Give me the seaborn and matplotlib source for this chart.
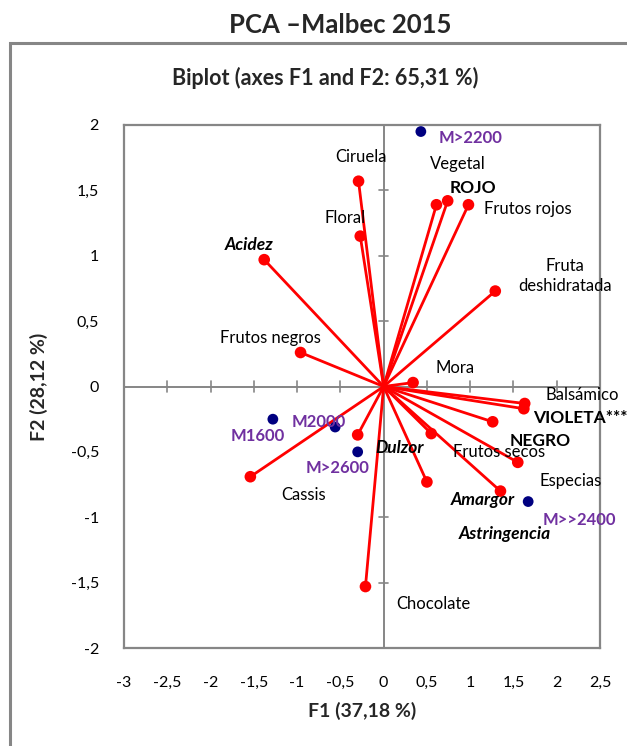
import matplotlib
matplotlib.use("Agg")
import matplotlib.pyplot as plt
import seaborn as sns
import pandas as pd
from matplotlib.patches import Rectangle
from matplotlib.ticker import FuncFormatter

# Variable loadings (F1, F2)
var_names = ["Ciruela", "Floral", "Acidez", "Frutos negros", "Vegetal", "ROJO",
             "Frutos rojos", "Fruta\ndeshidratada", "Mora", "Balsámico", "VIOLETA***",
             "NEGRO", "Frutos secos", "Especias", "Amargor", "Astringencia",
             "Dulzor", "Cassis", "Chocolate"]
var_f1 = [-0.29, -0.27, -1.38, -0.96, 0.61, 0.74, 0.98, 1.29, 0.34, 1.63, 1.62,
          1.26, 0.55, 1.55, 1.35, 0.50, -0.30, -1.54, -0.21]
var_f2 = [1.57, 1.15, 0.97, 0.26, 1.39, 1.42, 1.39, 0.73, 0.03, -0.13, -0.17,
          -0.27, -0.36, -0.58, -0.80, -0.73, -0.37, -0.69, -1.53]

# Observation scores (F1, F2)
obs_names = ["M>2200", "M1600", "M2000", "M>2600", "M>>2400"]
obs_f1 = [0.43, -1.28, -0.56, -0.30, 1.67]
obs_f2 = [1.95, -0.25, -0.31, -0.50, -0.88]

# Label anchor points and styles
var_lab_x = [-0.26, -0.44, -1.56, -1.31, 0.86, 1.03, 1.67, 2.10, 0.82, 2.30, 2.27,
             1.81, 1.33, 2.16, 1.14, 1.40, 0.18, -0.93, 0.58]
var_lab_y = [1.757, 1.286, 1.082, 0.373, 1.70, 1.515, 1.355, 0.845, 0.139, -0.065,
             -0.243, -0.414, -0.498, -0.722, -0.868, -1.13, -0.47, -0.83, -1.665]
bold = {"ROJO", "VIOLETA***", "NEGRO"}
bold_italic = {"Acidez", "Amargor", "Astringencia", "Dulzor"}
obs_lab_x = [1.007, -1.458, -0.745, -0.533, 2.257]
obs_lab_y = [1.897, -0.378, -0.269, -0.626, -1.02]

x_ticks = [-3, -2.5, -2, -1.5, -1, -0.5, 0, 0.5, 1, 1.5, 2, 2.5]
y_ticks = [-2, -1.5, -1, -0.5, 0, 0.5, 1, 1.5, 2]

sns.set_style("white")
plt.rcParams["font.family"] = ["Lato", "DejaVu Sans"]

RED = "#FF0000"
NAVY = "#000080"
PURPLE = "#7030A0"
GREY = "#868686"

fig = plt.figure(figsize=(6.27, 7.46), dpi=100)

# Outer chart frame
fig.patches.append(Rectangle((9.5 / 627, -0.05), 1.2, (746 - 43) / 746 + 0.05,
                             transform=fig.transFigure, fill=False,
                             edgecolor=GREY, linewidth=2.2, zorder=0))

ax = fig.add_axes([124 / 627, 98 / 746, 476 / 627, 523 / 746])

vars_df = pd.DataFrame({"F1": var_f1, "F2": var_f2, "name": var_names})
obs_df = pd.DataFrame({"F1": obs_f1, "F2": obs_f2, "name": obs_names})

# Zero axes with crossing ticks
ax.axhline(0, color=GREY, lw=1.4, zorder=1)
ax.axvline(0, color=GREY, lw=1.4, zorder=1)
tick_h = 0.045
for t in x_ticks:
    if t not in (-3, 0):
        ax.plot([t, t], [-tick_h, tick_h], color=GREY, lw=1.2, zorder=1)
tick_w = 0.05
for t in y_ticks:
    if t not in (-2, 0, 2):
        ax.plot([-tick_w, tick_w], [t, t], color=GREY, lw=1.2, zorder=1)

# Loading vectors from the origin
for x, y in zip(vars_df["F1"], vars_df["F2"]):
    ax.plot([0, x], [0, y], color=RED, lw=2.0, solid_capstyle="round", zorder=2)

sns.scatterplot(data=vars_df, x="F1", y="F2", color=RED, s=70,
                edgecolor="none", ax=ax, zorder=3)
sns.scatterplot(data=obs_df, x="F1", y="F2", color=NAVY, s=60,
                edgecolor="none", ax=ax, zorder=3)

for name, lx, ly in zip(var_names, var_lab_x, var_lab_y):
    kw = dict(fontsize=12, color="black", ha="center", va="center", zorder=4,
              linespacing=1.25)
    if name in bold:
        kw.update(fontweight="bold", fontsize=12.5)
    elif name in bold_italic:
        kw.update(fontweight="bold", fontstyle="italic", fontsize=12.5)
    ax.text(lx, ly, name, clip_on=False, **kw)

for name, lx, ly in zip(obs_names, obs_lab_x, obs_lab_y):
    ax.text(lx, ly, name, fontsize=12, color=PURPLE, fontweight="bold",
            ha="center", va="center", zorder=4, clip_on=False)

ax.set_xlim(-3, 2.5)
ax.set_ylim(-2, 2)
ax.set_xticks(x_ticks)
ax.set_yticks(y_ticks)
fmt = FuncFormatter(lambda v, p: ("%g" % v).replace(".", ","))
ax.xaxis.set_major_formatter(fmt)
ax.yaxis.set_major_formatter(fmt)
ax.tick_params(axis="both", length=0, labelsize=11.5, colors="black")
ax.tick_params(axis="x", pad=20)
ax.tick_params(axis="y", pad=18)
for s in ax.spines.values():
    s.set_color(GREY)
    s.set_linewidth(1.6)

ax.set_xlabel("F1 (37,18 %)", fontsize=14, fontweight="bold", labelpad=9)
ax.set_ylabel("F2 (28,12 %)", fontsize=14, fontweight="bold", labelpad=16)

fig.text(340 / 627, 1 - 25 / 746, "PCA \u2013Malbec 2015", fontsize=18.5,
         fontweight="bold", ha="center", va="center")
fig.text(325 / 627, 1 - 78 / 746, "Biplot (axes F1 and F2: 65,31 %)",
         fontsize=15.5, fontweight="bold", ha="center", va="center")

fig.savefig("out.png", dpi=100)
